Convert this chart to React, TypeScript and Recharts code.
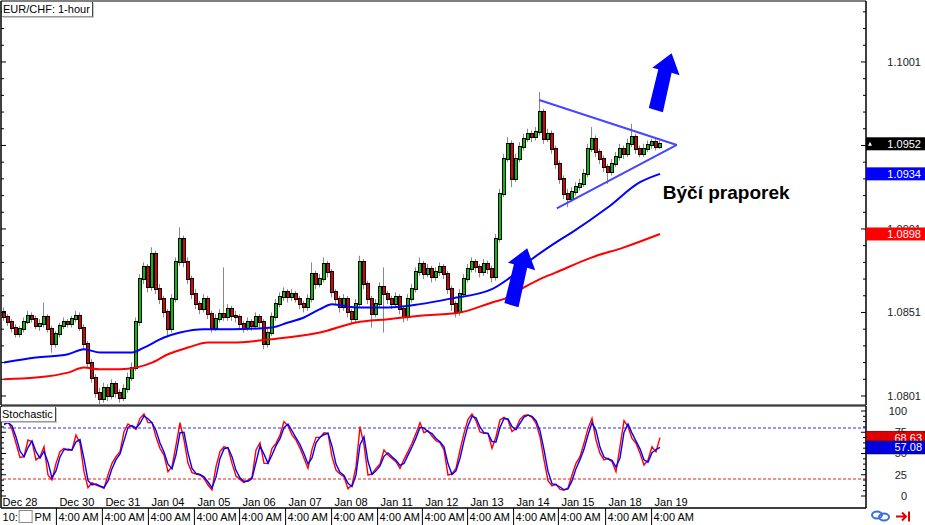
import React from 'react';
import {
  ComposedChart, Bar, Line, XAxis, YAxis,
  ReferenceLine, ReferenceDot, ReferenceArea,
} from 'recharts';

// candles: open of each bar is the previous close
const firstOpen = 1.0851;
const closes = [
  1.0848, 1.0845, 1.0842, 1.0838, 1.0841, 1.0845, 1.0849, 1.0847, 1.0843, 1.0844,
  1.0848, 1.0841, 1.0832, 1.0838, 1.0843, 1.0845, 1.0844, 1.0847, 1.0849, 1.0842,
  1.0832, 1.0821, 1.0812, 1.0803, 1.0799, 1.0806, 1.0801, 1.0808, 1.0803, 1.0800,
  1.0805, 1.0812, 1.0818, 1.0845, 1.0871, 1.0878, 1.0866, 1.0886, 1.0865, 1.0859,
  1.0851, 1.0841, 1.0859, 1.0881, 1.0895, 1.0881, 1.0871, 1.0862, 1.0856, 1.0853,
  1.0859, 1.0850, 1.0842, 1.0847, 1.0850, 1.0848, 1.0853, 1.0849, 1.0848, 1.0844,
  1.0842, 1.0845, 1.0843, 1.0848, 1.0845, 1.0832, 1.0839, 1.0848, 1.0856, 1.0860,
  1.0863, 1.0860, 1.0862, 1.0859, 1.0856, 1.0854, 1.0859, 1.0874, 1.0868, 1.0871,
  1.0880, 1.0875, 1.0863, 1.0859, 1.0854, 1.0859, 1.0851, 1.0847, 1.0856, 1.0881,
  1.0868, 1.0859, 1.0850, 1.0856, 1.0866, 1.0862, 1.0859, 1.0856, 1.0860, 1.0853,
  1.0848, 1.0859, 1.0865, 1.0875, 1.0880, 1.0874, 1.0877, 1.0872, 1.0875, 1.0878,
  1.0874, 1.0865, 1.0856, 1.0851, 1.0862, 1.0871, 1.0877, 1.0881, 1.0878, 1.0875,
  1.0880, 1.0877, 1.0872, 1.0895, 1.0922, 1.0943, 1.0952, 1.0931, 1.0943, 1.0950,
  1.0955, 1.0958, 1.0956, 1.0959, 1.0971, 1.0955, 1.0958, 1.0949, 1.0940, 1.0931,
  1.0922, 1.0919, 1.0923, 1.0926, 1.0928, 1.0934, 1.0949, 1.0955, 1.0947, 1.0943,
  1.0938, 1.0935, 1.0940, 1.0944, 1.0949, 1.0946, 1.0952, 1.0956, 1.0949, 1.0946,
  1.0949, 1.0951, 1.0953, 1.0950, 1.0952,
];
const highs = [
  1.0854, 1.0850, 1.0847, 1.0844, 1.0843, 1.0848, 1.0852, 1.0851, 1.0849, 1.0847,
  1.0857, 1.0850, 1.0843, 1.0840, 1.0845, 1.0848, 1.0847, 1.0849, 1.0852, 1.0851,
  1.0844, 1.0834, 1.0823, 1.0814, 1.0806, 1.0809, 1.0808, 1.0811, 1.0810, 1.0805,
  1.0808, 1.0815, 1.0821, 1.0848, 1.0874, 1.0881, 1.0880, 1.0890, 1.0888, 1.0868,
  1.0861, 1.0853, 1.0862, 1.0884, 1.0902, 1.0897, 1.0884, 1.0873, 1.0865, 1.0858,
  1.0862, 1.0861, 1.0852, 1.0850, 1.0853, 1.0878, 1.0856, 1.0855, 1.0852, 1.0850,
  1.0846, 1.0848, 1.0847, 1.0851, 1.0850, 1.0847, 1.0842, 1.0851, 1.0859, 1.0863,
  1.0866, 1.0865, 1.0865, 1.0864, 1.0861, 1.0858, 1.0862, 1.0881, 1.0876, 1.0874,
  1.0884, 1.0882, 1.0877, 1.0865, 1.0861, 1.0862, 1.0861, 1.0853, 1.0859, 1.0885,
  1.0883, 1.0870, 1.0861, 1.0859, 1.0869, 1.0878, 1.0864, 1.0861, 1.0863, 1.0862,
  1.0855, 1.0862, 1.0868, 1.0878, 1.0884, 1.0882, 1.0880, 1.0879, 1.0878, 1.0881,
  1.0880, 1.0876, 1.0867, 1.0858, 1.0865, 1.0874, 1.0880, 1.0884, 1.0883, 1.0880,
  1.0883, 1.0882, 1.0879, 1.0898, 1.0925, 1.0946, 1.0956, 1.0954, 1.0946, 1.0953,
  1.0958, 1.0961, 1.0960, 1.0962, 1.0983, 1.0973, 1.0961, 1.0960, 1.0951, 1.0942,
  1.0933, 1.0925, 1.0926, 1.0929, 1.0931, 1.0937, 1.0952, 1.0962, 1.0957, 1.0949,
  1.0945, 1.0940, 1.0943, 1.0947, 1.0952, 1.0951, 1.0955, 1.0964, 1.0958, 1.0951,
  1.0952, 1.0954, 1.0955, 1.0955, 1.0954,
];
const lows = [
  1.0846, 1.0843, 1.0839, 1.0836, 1.0836, 1.0839, 1.0844, 1.0845, 1.0841, 1.0840,
  1.0842, 1.0839, 1.0827, 1.0830, 1.0836, 1.0841, 1.0842, 1.0842, 1.0845, 1.0840,
  1.0829, 1.0818, 1.0809, 1.0800, 1.0796, 1.0797, 1.0798, 1.0799, 1.0800, 1.0797,
  1.0798, 1.0803, 1.0810, 1.0816, 1.0843, 1.0868, 1.0863, 1.0864, 1.0862, 1.0856,
  1.0848, 1.0836, 1.0839, 1.0857, 1.0879, 1.0878, 1.0868, 1.0859, 1.0853, 1.0850,
  1.0851, 1.0847, 1.0839, 1.0840, 1.0845, 1.0846, 1.0846, 1.0846, 1.0845, 1.0841,
  1.0839, 1.0840, 1.0840, 1.0841, 1.0842, 1.0829, 1.0830, 1.0837, 1.0846, 1.0854,
  1.0858, 1.0857, 1.0858, 1.0857, 1.0853, 1.0851, 1.0852, 1.0857, 1.0865, 1.0866,
  1.0869, 1.0872, 1.0860, 1.0856, 1.0851, 1.0852, 1.0848, 1.0844, 1.0845, 1.0854,
  1.0865, 1.0856, 1.0842, 1.0848, 1.0854, 1.0839, 1.0856, 1.0853, 1.0854, 1.0850,
  1.0845, 1.0846, 1.0857, 1.0863, 1.0873, 1.0871, 1.0872, 1.0869, 1.0870, 1.0873,
  1.0871, 1.0862, 1.0852, 1.0848, 1.0849, 1.0860, 1.0869, 1.0875, 1.0875, 1.0872,
  1.0873, 1.0874, 1.0869, 1.0870, 1.0893, 1.0920, 1.0941, 1.0926, 1.0929, 1.0941,
  1.0948, 1.0953, 1.0953, 1.0954, 1.0957, 1.0952, 1.0953, 1.0946, 1.0937, 1.0928,
  1.0919, 1.0914, 1.0917, 1.0921, 1.0924, 1.0926, 1.0932, 1.0947, 1.0944, 1.0940,
  1.0935, 1.0928, 1.0933, 1.0938, 1.0942, 1.0943, 1.0944, 1.0950, 1.0946, 1.0944,
  1.0944, 1.0947, 1.0949, 1.0948, 1.0949,
];

// moving averages, read at selected bars: [bar index, price]
const blueMA: [number, number][] = [
  [0, 1.0821], [8, 1.0824], [16, 1.0826], [20, 1.0829], [24, 1.0827], [32, 1.0827],
  [35, 1.0830], [40, 1.0836], [44, 1.0839], [50, 1.0841], [57, 1.0841], [67, 1.0842],
  [71, 1.0845], [75, 1.0848], [79, 1.0853], [82, 1.0856], [88, 1.0854], [96, 1.0854],
  [104, 1.0856], [111, 1.0859], [122, 1.0865], [126, 1.0871], [132, 1.0883], [138, 1.0893],
  [142, 1.0899], [151, 1.0914], [159, 1.0929], [164, 1.0934],
];
const redMA: [number, number][] = [
  [0, 1.0811], [8, 1.0812], [16, 1.0815], [20, 1.0818], [24, 1.0817], [29, 1.0817],
  [33, 1.0818], [37, 1.0821], [41, 1.0826], [46, 1.0830], [51, 1.0833], [57, 1.0833],
  [67, 1.0835], [79, 1.0839], [88, 1.0845], [96, 1.0847], [104, 1.0849], [114, 1.0851],
  [122, 1.0857], [126, 1.0860], [130, 1.0866], [134, 1.0871], [138, 1.0875], [147, 1.0884],
  [155, 1.0890], [164, 1.0898],
];

// stochastic: red = %K, blue = %D
const stochK = [
  85.5, 87.5, 78.4, 62, 45.5, 46.3, 65.9, 63.9, 42.4, 46.3,
  58, 24.7, 18.8, 38.4, 52.2, 56.1, 54.1, 54.1, 71.8, 62,
  28.6, 9.8, 15.7, 12.9, 11, 9, 24.7, 38.4, 46.3, 52.2,
  75.7, 84.7, 81.6, 78.4, 91.4, 96.5, 86.3, 86.3, 69.8, 56.1,
  48.2, 28.6, 34.5, 60, 86.3, 65.9, 38.4, 27.5, 25.9, 24.7,
  20.8, 12.9, 7.1, 34.5, 52.2, 58, 56.1, 38.4, 23.5, 19.6,
  15.7, 18.8, 22, 54.1, 62.7, 38.4, 38.4, 56.1, 62, 71.8,
  87.5, 82.4, 71.8, 65.9, 56.1, 44.3, 32.5, 54.9, 69, 69,
  74.5, 73.7, 46.3, 30.6, 25.9, 22.7, 8.6, 12.9, 34.5, 81.6,
  60, 24.7, 25.9, 32.5, 37.6, 54.1, 48.2, 44.3, 40.4, 32.5,
  43.1, 52.2, 62, 73.7, 86.3, 74.5, 76.9, 70.6, 65.1, 62.7,
  54.1, 24.7, 25.9, 32.5, 54.1, 73.7, 90.2, 96.5, 88.6, 75.3,
  73.7, 73.7, 56.1, 69.8, 89.4, 92.5, 89.4, 75.7, 79.6, 90.2,
  94.9, 95.3, 92.5, 85.5, 69.8, 42.4, 18, 11.8, 14.1, 7.8,
  7.1, 9.4, 24.7, 38.4, 46.3, 62, 79.6, 91.4, 65.9, 50.2,
  42.4, 44.3, 40.4, 28.6, 58, 88.6, 81.6, 67.8, 62, 50.2,
  36.5, 42.4, 58, 52, 68.63,
];
const stochD = [
  84, 86.6, 82.5, 69.4, 52.9, 46, 57, 64.8, 52.1, 44.6,
  52.7, 39.7, 21.4, 29.6, 46, 54.4, 55, 54.1, 63.8, 66.4,
  43.6, 18.3, 13, 14.2, 11.9, 10, 17.7, 32.2, 42.8, 49.5,
  65.1, 80.7, 83, 79.8, 85.6, 94.2, 90.9, 86.3, 77.2, 62.3,
  51.7, 37.4, 31.9, 48.5, 74.5, 75, 50.8, 32.4, 26.6, 25.3,
  22.5, 16.5, 9.7, 22.2, 44.2, 55.4, 57, 46.3, 30.2, 21.4,
  17.4, 17.4, 20.6, 39.7, 58.8, 49.3, 38.4, 48.2, 59.3, 67.4,
  80.4, 84.7, 76.6, 68.5, 60.6, 49.6, 37.8, 44.8, 62.7, 69.1,
  72.1, 74, 58.7, 37.6, 28, 24.2, 14.9, 11, 24.8, 60.4,
  69.7, 40.6, 25.3, 29.6, 35.3, 46.7, 50.8, 46.1, 42.1, 36.1,
  38.3, 48.1, 57.6, 68.4, 80.7, 79.8, 75.8, 73.4, 67.6, 63.8,
  58, 37.9, 25.3, 29.6, 44.4, 64.8, 82.8, 93.7, 92.1, 81.3,
  74.4, 73.7, 64.1, 63.6, 80.6, 91.1, 90.8, 81.8, 77.9, 85.4,
  92.8, 95.1, 93.8, 88.6, 76.9, 54.7, 29, 14.6, 13.1, 10.6,
  7.4, 8.4, 17.8, 32.2, 42.8, 54.9, 71.7, 86.1, 77.3, 57.3,
  45.9, 43.5, 42.1, 33.9, 44.8, 74.8, 84.8, 74, 64.6, 55.5,
  42.7, 39.7, 51, 54.7, 57.08,
];

const priceTicks = [
  1.0801, 1.0811, 1.0821, 1.0831, 1.0841, 1.0851, 1.0861, 1.0871, 1.0881, 1.0891,
  1.0901, 1.0911, 1.0921, 1.0931, 1.0941, 1.0951, 1.0961, 1.0971, 1.0981, 1.0991,
  1.1001, 1.1011, 1.1021, 1.1031,
];
// 1.0951 sits fully under the last-price badge, so it is not labelled
const priceLabels = [1.0801, 1.0851, 1.0901, 1.1001];
const priceMajor = [1.0801, 1.0851, 1.0901, 1.0951, 1.1001];
const stochTicks = [0, 6.25, 12.5, 18.75, 25, 31.25, 37.5, 43.75, 50, 56.25, 62.5, 68.75, 75, 81.25, 87.5, 93.75, 100];
const stochLabels = [0, 25, 50, 75, 100];

const dateTicks = [-0.6, 13.1, 24.6, 36.1, 47.6, 58.9, 70.4, 81.9, 93.4, 104.6, 115.9, 127.4, 138.6, 150.4, 161.9];
const dateLabels = ['Dec 28', 'Dec 30', 'Dec 31', 'Jan 04', 'Jan 05', 'Jan 06', 'Jan 07', 'Jan 08', 'Jan 11', 'Jan 12', 'Jan 13', 'Jan 14', 'Jan 15', 'Jan 18', 'Jan 19'];
const timeLabels = ['10: PM', '4:00 AM', '4:00 AM', '4:00 AM', '4:00 AM', '4:00 AM', '4:00 AM', '4:00 AM', '4:00 AM', '4:00 AM', '4:00 AM', '4:00 AM', '4:00 AM', '4:00 AM', '4:00 AM'];

// drawing on the chart (bar index, price)
const triangleUpper = [{ x: 133.8, y: 1.09782 }, { x: 168.2, y: 1.09513 }];
const triangleLower = [{ x: 138.2, y: 1.09134 }, { x: 168.2, y: 1.09513 }];
const arrowTips = [{ x: 130.8, y: 1.08894 }, { x: 166.9, y: 1.10062 }];
const flagLabel = { x: 164.7, y: 1.09229, text: 'Býčí praporek' };

const X_DOMAIN: [number, number] = [-0.75, 215.5];
const PRICE_DOMAIN: [number, number] = [1.07956, 1.10375];
const STOCH_DOMAIN: [number, number] = [-14.1, 105.9];
const FONT = "'Liberation Sans', Arial, sans-serif";
const UP = '#00c000';
const DOWN = '#e00000';

const lastClose = closes[closes.length - 1];
const blueLast = blueMA[blueMA.length - 1][1];
const redLast = redMA[redMA.length - 1][1];
const kLast = stochK[stochK.length - 1];
const dLast = stochD[stochD.length - 1];

const priceBadges = [
  { value: redLast, color: '#ff0000', mark: false },
  { value: blueLast, color: '#0000ff', mark: false },
  { value: lastClose, color: '#000000', mark: true },
];
const stochBadges = [
  { value: kLast, color: '#e00000' },
  { value: dLast, color: '#0000e0' },
];

const blueAt = new Map(blueMA);
const redAt = new Map(redMA);
const rows = closes.map((c, i) => ({
  i,
  o: i === 0 ? firstOpen : closes[i - 1],
  h: highs[i],
  l: lows[i],
  c,
  hl: [lows[i], highs[i]],
  blue: blueAt.has(i) ? blueAt.get(i) : null,
  red: redAt.has(i) ? redAt.get(i) : null,
}));
const stochRows = stochK.map((k, i) => ({ i, k, d: stochD[i] }));

function Candle(props: any) {
  const { x, y, width, height, payload } = props;
  if (x == null || y == null) return null;
  const cx = Math.round(x + width / 2);
  const top = Math.min(y, y + height);
  const bot = Math.max(y, y + height);
  const { o, h, l, c } = payload;
  const py = (v: number) => (h === l ? top : top + ((h - v) / (h - l)) * (bot - top));
  const b1 = Math.round(Math.min(py(o), py(c)));
  const b2 = Math.round(Math.max(py(o), py(c)));
  return (
    <g>
      <line x1={cx - 0.5} x2={cx - 0.5} y1={top} y2={bot} stroke="#8a8a8a" strokeWidth={1} />
      <rect x={cx - 2} y={b1 - 1} width={4} height={Math.max(b2 - b1 + 2, 2)} fill="#000" />
      {b2 - b1 >= 1 && (
        <rect x={cx - 1} y={b1} width={2} height={b2 - b1} fill={c >= o ? UP : DOWN} />
      )}
    </g>
  );
}

function PriceTick(props: any) {
  const { x, y, payload } = props;
  const v: number = payload.value;
  const badge = priceBadges.find((b) => b.value === v);
  if (badge) {
    return (
      <g>
        <rect x={x} y={y - 6.5} width={59} height={13} fill={badge.color} />
        {badge.mark && <path d={`M${x + 2},${y + 2} L${x + 6},${y + 2} L${x + 4},${y - 2} Z`} fill="#fff" />}
        <text x={x + 55} y={y} dy="0.36em" textAnchor="end" fill="#fff" fontSize={11} fontFamily={FONT}>
          {v.toFixed(4)}
        </text>
      </g>
    );
  }
  const major = priceMajor.includes(v);
  return (
    <g>
      <line x1={x - (major ? 5 : 3)} x2={x} y1={y} y2={y} stroke="#000" />
      {priceLabels.includes(v) && (
        <text x={x + 55} y={y} dy="0.36em" textAnchor="end" fill="#222" fontSize={11} fontFamily={FONT}>
          {v.toFixed(4)}
        </text>
      )}
    </g>
  );
}

function StochTick(props: any) {
  const { x, y, payload } = props;
  const v: number = payload.value;
  const badge = stochBadges.find((b) => b.value === v);
  if (badge) {
    return (
      <g>
        <rect x={x} y={y - 6.5} width={59} height={13} fill={badge.color} stroke="#000" strokeWidth={0.5} />
        <text x={x + 56} y={y} dy="0.36em" textAnchor="end" fill="#fff" fontSize={11} fontFamily={FONT}>
          {v.toFixed(2)}
        </text>
      </g>
    );
  }
  const major = stochLabels.includes(v);
  return (
    <g>
      <line x1={x - (major ? 5 : 3)} x2={x} y1={y} y2={y} stroke="#000" />
      {major && (
        <text x={x + 41} y={y} dy="0.36em" textAnchor="end" fill="#222" fontSize={11} fontFamily={FONT}>
          {v}
        </text>
      )}
    </g>
  );
}

function LeftTick(props: any) {
  const { x, y, payload } = props;
  const major = priceMajor.includes(payload.value) || stochLabels.includes(payload.value);
  return <line x1={x} x2={x + (major ? 5 : 3)} y1={y} y2={y} stroke="#000" />;
}

function DateTick(props: any) {
  const { x, y, payload } = props;
  const idx = dateTicks.indexOf(payload.value);
  if (idx < 0) return null;
  const first = idx === 0;
  const style = { fontSize: 11, fontFamily: FONT, fill: '#000' };
  return (
    <g>
      <text x={x + (first ? 1 : 3)} y={y - 2.5} {...style}>{dateLabels[idx]}</text>
      {first ? (
        <g>
          <text x={x + 1} y={y + 13} {...style}>{timeLabels[idx].split(' ')[0]}</text>
          <rect x={x + 17.5} y={y + 2.5} width={13} height={12} fill="#fff" stroke="#888" />
          <text x={x + 33} y={y + 13} {...style}>{timeLabels[idx].split(' ')[1]}</text>
        </g>
      ) : (
        <g>
          <line x1={x} x2={x} y1={y} y2={y + 17} stroke="#000" />
          <text x={x + 2} y={y + 13} {...style}>{timeLabels[idx]}</text>
        </g>
      )}
    </g>
  );
}

function Arrow(props: any) {
  const { cx, cy } = props;
  if (cx == null) return null;
  const pts = [[0, 0], [8, 22], [0, 19.5], [-8.7, 59], [-22.8, 54.7], [-13.3, 16], [-19.3, 14.5]];
  return <polygon points={pts.map(([dx, dy]) => `${cx + dx},${cy + dy}`).join(' ')} fill="#0000ff" />;
}

function FlagText(props: any) {
  const { cx, cy } = props;
  if (cx == null) return null;
  return (
    <text x={cx} y={cy} dy="0.35em" fontSize={19} fontWeight="bold" fontFamily={FONT} fill="#000">
      {flagLabel.text}
    </text>
  );
}

const boxStyle: React.CSSProperties = {
  position: 'absolute',
  background: '#fff',
  fontFamily: FONT,
  fontSize: 11,
  lineHeight: '14px',
  height: 14,
  padding: '0 2px 0 1px',
  borderRight: '1px solid #444',
  borderBottom: '1px solid #999',
  boxShadow: '1px 1px 0 #c8c8c8',
  color: '#000',
  whiteSpace: 'nowrap',
};

export default function App() {
  return (
    <div style={{ position: 'absolute', left: 0, top: 0, width: 925, height: 525, background: '#fff', overflow: 'hidden' }}>
      <div style={{ position: 'absolute', left: 0, top: 0 }}>
        <ComposedChart width={925} height={406} data={rows} margin={{ top: 1, right: 0, bottom: 1, left: 0 }}>
          <XAxis dataKey="i" type="number" domain={X_DOMAIN} allowDataOverflow hide />
          <YAxis
            yAxisId="p" orientation="right" width={59} domain={PRICE_DOMAIN} allowDataOverflow
            ticks={[...priceTicks, ...priceBadges.map((b) => b.value)]} interval={0}
            tickSize={0} tickMargin={0} tickLine={false} axisLine={{ stroke: '#000' }} tick={<PriceTick />}
          />
          <YAxis
            yAxisId="l" orientation="left" width={1} domain={PRICE_DOMAIN} allowDataOverflow
            ticks={priceTicks} interval={0} tickSize={0} tickMargin={0} tickLine={false}
            axisLine={{ stroke: '#000' }} tick={<LeftTick />}
          />
          <ReferenceArea
            yAxisId="p" x1={X_DOMAIN[0]} x2={X_DOMAIN[1]} y1={PRICE_DOMAIN[0]} y2={PRICE_DOMAIN[1]}
            fill="none" stroke="#000" strokeWidth={1}
          />
          <Bar yAxisId="p" dataKey="hl" barSize={3} isAnimationActive={false} shape={(p: any) => <Candle {...p} />} />
          <Line yAxisId="p" dataKey="red" type="monotone" stroke="#ff0000" strokeWidth={2} dot={false} connectNulls isAnimationActive={false} />
          <Line yAxisId="p" dataKey="blue" type="monotone" stroke="#0000ff" strokeWidth={2} dot={false} connectNulls isAnimationActive={false} />
          <ReferenceLine yAxisId="p" segment={triangleUpper} stroke="#4646ff" strokeWidth={2} />
          <ReferenceLine yAxisId="p" segment={triangleLower} stroke="#4646ff" strokeWidth={2} />
          {arrowTips.map((a, k) => (
            <ReferenceDot key={k} yAxisId="p" x={a.x} y={a.y} r={1} shape={(p: any) => <Arrow {...p} />} />
          ))}
          <ReferenceDot yAxisId="p" x={flagLabel.x} y={flagLabel.y} r={1} shape={(p: any) => <FlagText {...p} />} />
        </ComposedChart>
      </div>
      <div style={{ position: 'absolute', left: 0, top: 405 }}>
        <ComposedChart width={925} height={120} data={stochRows} margin={{ top: 1, right: 0, bottom: 0, left: 0 }}>
          <XAxis
            dataKey="i" type="number" domain={X_DOMAIN} allowDataOverflow height={17}
            ticks={dateTicks} interval={0} tickSize={0} tickMargin={0} tickLine={false}
            axisLine={{ stroke: '#000' }} tick={<DateTick />}
          />
          <YAxis
            yAxisId="s" orientation="right" width={59} domain={STOCH_DOMAIN} allowDataOverflow
            ticks={[...stochTicks, ...stochBadges.map((b) => b.value)]} interval={0}
            tickSize={0} tickMargin={0} tickLine={false} axisLine={{ stroke: '#000' }} tick={<StochTick />}
          />
          <YAxis
            yAxisId="sl" orientation="left" width={1} domain={STOCH_DOMAIN} allowDataOverflow
            ticks={stochTicks} interval={0} tickSize={0} tickMargin={0} tickLine={false}
            axisLine={{ stroke: '#000' }} tick={<LeftTick />}
          />
          <ReferenceArea
            yAxisId="s" x1={X_DOMAIN[0]} x2={X_DOMAIN[1]} y1={STOCH_DOMAIN[0]} y2={STOCH_DOMAIN[1]}
            fill="none" stroke="#000" strokeWidth={1}
          />
          <ReferenceLine yAxisId="s" y={80} stroke="#2a2aff" strokeDasharray="3 2" />
          <ReferenceLine yAxisId="s" y={20} stroke="#e02020" strokeDasharray="3 2" />
          <Line yAxisId="s" dataKey="k" type="linear" stroke="#ff0000" strokeWidth={1.4} dot={false} isAnimationActive={false} />
          <Line yAxisId="s" dataKey="d" type="linear" stroke="#0000ff" strokeWidth={1.4} dot={false} isAnimationActive={false} />
        </ComposedChart>
      </div>
      <div style={{ ...boxStyle, left: 2, top: 2 }}>EUR/CHF: 1-hour</div>
      <div style={{ ...boxStyle, left: 1, top: 407 }}>Stochastic</div>
      <svg style={{ position: 'absolute', left: 866, top: 508 }} width={59} height={17}>
        <ellipse cx={11} cy={7} rx={5} ry={3.5} fill="none" stroke="#3a6fe0" strokeWidth={2} />
        <ellipse cx={18} cy={9} rx={5} ry={3.5} fill="none" stroke="#3a6fe0" strokeWidth={2} />
        <path d="M30,8.5 L40,8.5 M36,4.5 L40,8.5 L36,12.5 M43,3.5 L43,13.5" stroke="#e00000" strokeWidth={2} fill="none" />
      </svg>
    </div>
  );
}
